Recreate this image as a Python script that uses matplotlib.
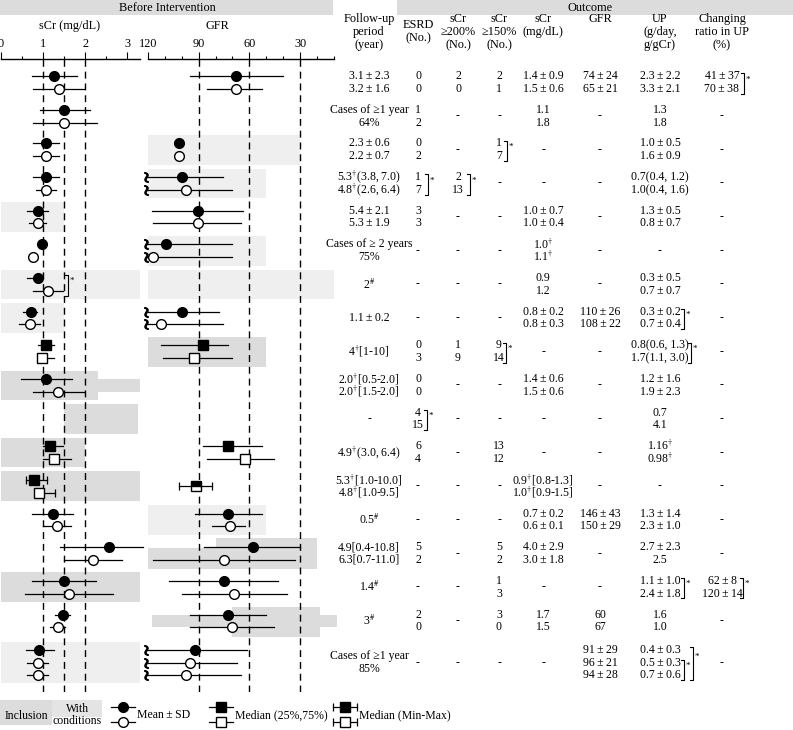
import numpy as np
import matplotlib
matplotlib.use("Agg")
from matplotlib import pyplot as plt
from matplotlib.patches import Rectangle
from matplotlib.ticker import MultipleLocator

plt.rcParams['font.family'] = ['Liberation Serif', 'DejaVu Serif']
plt.rcParams['mathtext.fontset'] = 'stix'
FS = 8.5

W, H = 793, 730
TOP, BOTTOM = 59, 692          # px: axis line / end of dashed lines
ROW0, PITCH = 82.5, 33.65      # px of first row centre, row pitch

# ---- data -------------------------------------------------------------
# row centres (row units), the last study has three groups
row_pos = list(range(17)) + [17.24]
pair_off = [-0.19, 0.19]
trio_off = [-0.37, 0.0, 0.37]

# 'o' mean+-SD, 's' median (25,75), 'm' median (min-max)
marker_kind = ['o', 'o', 'o', 'o', 'o', 'o', 'o', 'o', 's', 'o',
               'o', 's', 'm', 'o', 'o', 'o', 'o', 'o']

# before intervention sCr: (estimate, low, high) filled group first
scr_before = [
    [(1.27, 0.73, 1.81), (1.38, 0.77, 1.97)],
    [(1.50, 0.93, 2.11), (1.50, 0.77, 2.27)],
    [(1.07, 0.77, 1.38), (1.07, 0.77, 1.37)],
    [(1.07, 0.77, 1.38), (1.07, 0.82, 1.31)],
    [(0.89, 0.62, 1.12), (0.87, 0.67, 1.07)],
    [(0.97, 0.97, 0.97), (0.77, 0.77, 0.77)],
    [(0.89, 0.62, 0.99), (1.12, 0.77, 1.48)],
    [(0.71, 0.53, 0.86), (0.69, 0.43, 0.93)],
    [(1.07, 0.89, 1.27), (0.97, 0.97, 1.27)],
    [(1.07, 0.48, 1.68), (1.36, 0.77, 1.97)],
    [],
    [(1.16, 0.99, 1.48), (1.27, 0.99, 1.66)],
    [(0.79, 0.59, 1.09), (0.90, 0.90, 1.28)],
    [(1.24, 0.73, 1.70), (1.34, 0.99, 1.66)],
    [(2.57, 1.39, 3.38), (2.18, 1.50, 2.87)],
    [(1.50, 0.74, 2.25), (1.62, 0.57, 2.67)],
    [(1.48, 1.28, 1.64), (1.36, 1.16, 1.52)],
    [(0.91, 0.59, 1.27), (0.87, 0.62, 1.12), (0.87, 0.62, 1.12)],
]

# before intervention GFR, low=None -> bar runs off the axis
gfr_before = [
    [(67.9, 95.1, 40.3), (67.9, 84.9, 52.5)],
    [],
    [(101.5, 101.5, 101.5), (101.5, 101.5, 101.5)],
    [(100.0, None, 75.4), (97.5, None, 70.4)],
    [(90.6, 117.8, 63.6), (90.6, 117.2, 65.1)],
    [(109.3, None, 70.4), (117.2, None, 70.4)],
    [],
    [(100.0, None, 77.8), (112.5, None, 75.4)],
    [(87.3, 112.3, 72.5), (92.6, 110.9, 70.1)],
    [],
    [],
    [(72.5, 87.3, 52.7), (62.6, 84.9, 45.4)],
    [(91.8, 101.6, 82.3)],
    [(72.5, 92.2, 52.7), (71.5, 82.3, 62.6)],
    [(57.7, 86.8, 30.0), (75.0, 117.2, 33.0)],
    [(75.0, 107.4, 42.9), (68.9, 100.0, 37.9)],
    [(72.5, 95.1, 50.3), (70.1, 95.1, 45.2)],
    [(92.2, None, 61.6), (95.1, None, 67.5), (97.5, None, 65.1)],
]

# inclusion ranges: (row, from, to, shade, dy_top, dy_bottom)
scr_shade = [
    (4, 0, 1.5, 'light', -0.44, 0.44),
    (6, 0, 3.3, 'light', -0.44, 0.44),
    (7, 0, 1.5, 'light', -0.44, 0.44),
    (9, 0, 2.3, 'dark', -0.44, 0.44),
    (9, 0, 3.3, 'dark', -0.19, 0.19),
    (10, 1.5, 3.25, 'dark', -0.44, 0.44),
    (11, 0, 2.0, 'dark', -0.44, 0.44),
    (12, 0, 3.3, 'dark', -0.44, 0.44),
    (15, 0, 3.3, 'dark', -0.44, 0.44),
    (17, 0, 3.3, 'light', -0.62, 0.62),
]
gfr_shade = [
    (2, 120, 30, 'light', -0.44, 0.44),
    (3, 120, 50, 'light', -0.44, 0.44),
    (5, 120, 50, 'light', -0.44, 0.44),
    (6, 120, 10, 'light', -0.44, 0.44),
    (8, 120, 50, 'dark', -0.44, 0.44),
    (13, 120, 50, 'light', -0.44, 0.44),
    (14, 80, 20, 'dark', -0.45, 0.45),
    (14, 120, 80, 'dark', -0.18, 0.45),
    (16, 70, 18, 'dark', -0.42, 0.48),
    (16, 117.6, 8, 'dark', -0.18, 0.18),
]
shade_col = {'light': '#efefef', 'dark': '#dcdcdc'}

# outcome table
headers = ["Follow-up\nperiod\n(year)", "ESRD\n(No.)", "sCr\n≥200%\n(No.)",
           "sCr\n≥150%\n(No.)", "sCr\n(mg/dL)\n", "GFR\n\n",
           "UP\n(g/day,\ng/gCr)", "Changing\nratio in UP\n(%)"]
D = r"$^{\dagger}$"
S = r"$^{\#}$"
fu_text = [["3.1±2.3", "3.2±1.6"], ["Cases of ≥1 year", "64%"],
           ["2.3±0.6", "2.2±0.7"], ["5.3" + D + "(3.8, 7.0)", "4.8" + D + "(2.6, 6.4)"],
           ["5.4±2.1", "5.3±1.9"], ["Cases of ≥ 2 years", "75%"], "2" + S,
           "1.1±0.2", "4" + D + "[1-10]", ["2.0" + D + "[0.5-2.0]", "2.0" + D + "[1.5-2.0]"],
           "-", "4.9" + D + "(3.0, 6.4)", ["5.3" + D + "[1.0-10.0]", "4.8" + D + "[1.0-9.5]"],
           "0.5" + S, ["4.9[0.4-10.8]", "6.3[0.7-11.0]"], "1.4" + S, "3" + S,
           ["Cases of ≥1 year", "85%"]]
esrd_text = [["0", "0"], ["1", "2"], ["0", "2"], ["1", "7"], ["3", "3"], "-", "-",
             "-", ["0", "3"], ["0", "0"], ["4", "15"], ["6", "4"], "-", "-",
             ["5", "2"], "-", ["2", "0"], "-"]
s200_text = [["2", "0"], "-", "-", ["2", "13"], "-", "-", "-", "-", ["1", "9"], "-",
             "-", "-", "-", "-", "-", "-", "-", "-"]
s150_text = [["2", "1"], "-", ["1", "7"], "-", "-", "-", "-", "-", ["9", "14"], "-",
             "-", ["13", "12"], "-", "-", ["5", "2"], ["1", "3"], ["3", "0"], "-"]
scr_out_text = [["1.4±0.9", "1.5±0.6"], ["1.1", "1.8"], "-", "-", ["1.0±0.7", "1.0±0.4"],
                ["1.0" + D, "1.1" + D], ["0.9", "1.2"], ["0.8±0.2", "0.8±0.3"], "-",
                ["1.4±0.6", "1.5±0.6"], "-", "-",
                ["0.9" + D + "[0.8-1.3]", "1.0" + D + "[0.9-1.5]"],
                ["0.7±0.2", "0.6±0.1"], ["4.0±2.9", "3.0±1.8"], "-", ["1.7", "1.5"], "-"]
gfr_out_text = [["74±24", "65±21"], "-", "-", "-", "-", "-", "-", ["110±26", "108±22"],
                "-", "-", "-", "-", "-", ["146±43", "150±29"], "-", "-", ["60", "67"],
                ["91±29", "96±21", "94±28"]]
up_text = [["2.3±2.2", "3.3±2.1"], ["1.3", "1.8"], ["1.0±0.5", "1.6±0.9"],
           ["0.7(0.4, 1.2)", "1.0(0.4, 1.6)"], ["1.3±0.5", "0.8±0.7"], "-",
           ["0.3±0.5", "0.7±0.7"], ["0.3±0.2", "0.7±0.4"], ["0.8(0.6, 1.3)", "1.7(1.1, 3.0)"],
           ["1.2±1.6", "1.9±2.3"], ["0.7", "4.1"], ["1.16" + D, "0.98" + D], "-",
           ["1.3±1.4", "2.3±1.0"], ["2.7±2.3", "2.5"], ["1.1±1.0", "2.4±1.8"],
           ["1.6", "1.0"], ["0.4±0.3", "0.5±0.3", "0.7±0.6"]]
cr_text = [["41±37", "70±38"], "-", "-", "-", "-", "-", "-", "-", "-", "-", "-", "-",
           "-", "-", "-", ["62±8", "120±14"], "-", "-"]
table_cols = [fu_text, esrd_text, s200_text, s150_text, scr_out_text,
              gfr_out_text, up_text, cr_text]

# significance brackets: (row, x px, first group, last group)
brackets = [(0, 744, 0, 1), (2, 507, 0, 1), (3, 428, 0, 1), (3, 470, 0, 1),
            (6, 68, 0, 1), (7, 684, 0, 1), (8, 506, 0, 1), (8, 691, 0, 1),
            (10, 427, 0, 1), (15, 684, 0, 1), (15, 743, 0, 1),
            (17, 684, 1, 2), (17, 693, 0, 2)]

# ---- layout helpers ----------------------------------------------------
col_x = [369, 418, 458, 499, 543, 600, 660, 722]
y_top = (TOP - ROW0) / PITCH
y_bot = (BOTTOM - ROW0) / PITCH


def fig_rect(x0, x1):
    return [x0 / W, (H - BOTTOM) / H, (x1 - x0) / W, (BOTTOM - TOP) / H]


def offsets(n):
    return [0.0] if n == 1 else (pair_off if n == 2 else trio_off)


def fmt(s):
    return s.replace("±", "\u2009±\u2009")


fig = plt.figure(figsize=(W / 100, H / 100), dpi=100)

lay = fig.add_axes([0, 0, 1, 1])
lay.set_xlim(0, W)
lay.set_ylim(H, 0)
lay.axis('off')

ax_scr = fig.add_axes(fig_rect(1, 140))
ax_scr.set_xlim(0, 3.3)
ax_gfr = fig.add_axes(fig_rect(148, 333.8))
ax_gfr.set_xlim(120, 10)

for ax, step, dashes, shades in [(ax_scr, 0.5, [1, 1.5, 2], scr_shade),
                                 (ax_gfr, 10, [90, 60, 30], gfr_shade)]:
    ax.set_ylim(y_bot, y_top)
    ax.patch.set_visible(False)
    for side in ['left', 'right', 'bottom']:
        ax.spines[side].set_visible(False)
    ax.spines['top'].set_linewidth(1.0)
    ax.xaxis.tick_top()
    ax.set_yticks([])
    ax.xaxis.set_minor_locator(MultipleLocator(step))
    ax.tick_params(axis='x', which='major', direction='out', length=5, width=0.8,
                   pad=1.5, labelsize=FS + 0.3)
    ax.tick_params(axis='x', which='minor', direction='out', length=2.5, width=0.8)
    for d in dashes:
        ax.axvline(d, color='k', lw=1.0, ls=(0, (5, 3.5)), zorder=1)
    for r, a, b, kind, d0, d1 in shades:
        y = row_pos[r]
        ax.add_patch(Rectangle((a, y + d0), b - a, d1 - d0, facecolor=shade_col[kind],
                               edgecolor='none', zorder=0, clip_on=False))

ax_scr.set_xticks([0, 1, 2, 3])
ax_gfr.set_xticks([120, 90, 60, 30])


def draw_panel(ax, rows):
    x0, x1 = ax.get_xlim()
    sq = x0 - 0.012 * (x1 - x0)
    for i, items in enumerate(rows):
        if not items:
            continue
        kind = marker_kind[i]
        offs = offsets(len(items))
        for j, (est, lo, hi) in enumerate(items):
            y = row_pos[i] + offs[j]
            trunc = lo is None
            if trunc:
                lo = x0
            ax.plot([lo, hi], [y, y], color='k', lw=0.9, zorder=3, clip_on=False)
            if trunc:
                ax.plot(sq, y, marker=r'$\wr$', ms=7, color='k', zorder=3, clip_on=False)
            if kind == 'm':
                ax.plot([lo, hi], [y, y], ls='none', marker='|', ms=6, mew=0.9,
                        color='k', zorder=3, clip_on=False)
            mk = 'o' if kind == 'o' else 's'
            ms = 7 if mk == 'o' else 6.5
            if len(items) == 1:
                ax.plot(est, y, marker=mk, ms=ms, fillstyle='top', mfc='k', mfcalt='w',
                        mec='k', mew=1.0, zorder=4, clip_on=False)
            else:
                ax.plot(est, y, marker=mk, ms=ms, mfc='k' if j == 0 else 'w',
                        mec='k', mew=1.0, zorder=4, clip_on=False)


draw_panel(ax_scr, scr_before)
draw_panel(ax_gfr, gfr_before)

# ---- outcome table -------------------------------------------------------
tab = fig.add_axes(fig_rect(0, W))
tab.set_xlim(0, W)
tab.set_ylim(y_bot, y_top)
tab.axis('off')

for cx, col in zip(col_x, table_cols):
    for i, cell in enumerate(col):
        if isinstance(cell, str):
            tab.text(cx, row_pos[i], fmt(cell), ha='center', va='center', fontsize=FS)
        else:
            for s, o in zip(cell, offsets(len(cell))):
                tab.text(cx, row_pos[i] + o, fmt(s), ha='center', va='center', fontsize=FS)

for r, bx, a, b in brackets:
    offs = offsets(len(gfr_before[r]) if r == 17 else 2)
    ya = row_pos[r] + offs[a] - 0.08
    yb = row_pos[r] + offs[b] + 0.14
    tab.plot([bx - 3, bx, bx, bx - 3], [ya, ya, yb, yb], color='k', lw=0.8)
    tab.text(bx + 1.5, ya + 0.3 * (yb - ya), "*", ha='left', va='center', fontsize=6.5)

# ---- headers ---------------------------------------------------------------
lay.add_patch(Rectangle((0, 0), 333, 15, facecolor='#dcdcdc', edgecolor='none'))
lay.text(167, 8, "Before Intervention", ha='center', va='center', fontsize=FS + 0.3)
lay.add_patch(Rectangle((397, 0), W - 397, 15, facecolor='#dcdcdc', edgecolor='none'))
lay.text(590, 8, "Outcome", ha='center', va='center', fontsize=FS + 0.3)
lay.text(70, 26, "sCr (mg/dL)", ha='center', va='center', fontsize=FS + 0.3)
lay.text(217, 26, "GFR", ha='center', va='center', fontsize=FS + 0.3)
for cx, h in zip(col_x, headers):
    lay.text(cx, 32, h, ha='center', va='center', fontsize=FS + 0.3, linespacing=1.12)

# ---- legend ------------------------------------------------------------------
lay.add_patch(Rectangle((0, 700), 52, 25, facecolor=shade_col['dark'], edgecolor='none'))
lay.add_patch(Rectangle((52, 700), 50, 17, facecolor='#e4e4e4', edgecolor='none'))
lay.text(26, 716, "Inclusion", ha='center', va='center', fontsize=FS)
lay.text(77, 715, "With\nconditions", ha='center', va='center', fontsize=FS,
         linespacing=1.05)
for cx, mk, caps, label in [(123, 'o', False, "Mean\u2009±\u2009SD"),
                            (221, 's', False, "Median (25%,75%)"),
                            (345, 's', True, "Median (Min-Max)")]:
    for yy, fc in [(707, 'k'), (722, 'w')]:
        lay.plot([cx - 12, cx + 12], [yy, yy], color='k', lw=0.9)
        if caps:
            lay.plot([cx - 12, cx + 12], [yy, yy], ls='none', marker='|', ms=6,
                     mew=0.9, color='k')
        lay.plot(cx, yy, marker=mk, ms=7 if mk == 'o' else 6.5, mfc=fc, mec='k', mew=1.0)
    lay.text(cx + 14, 715, label, ha='left', va='center', fontsize=FS)

fig.savefig('out.png', dpi=100)
